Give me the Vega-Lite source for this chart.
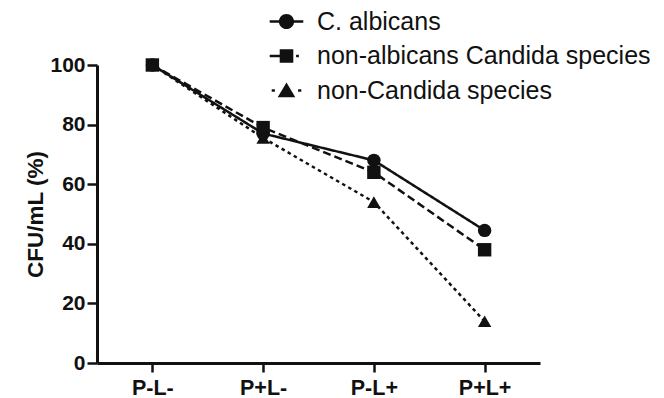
{
  "$schema": "https://vega.github.io/schema/vega-lite/v6.json",
  "autosize": "none",
  "width": 443,
  "height": 298,
  "padding": {"left": 97, "top": 65, "right": 124, "bottom": 35},
  "background": "white",
  "data": {
    "values": [
      {"series": "C. albicans", "condition": "P-L-", "value": 100},
      {"series": "C. albicans", "condition": "P+L-", "value": 77},
      {"series": "C. albicans", "condition": "P-L+", "value": 68},
      {"series": "C. albicans", "condition": "P+L+", "value": 44.5},
      {"series": "non-albicans Candida species", "condition": "P-L-", "value": 100},
      {"series": "non-albicans Candida species", "condition": "P+L-", "value": 79},
      {"series": "non-albicans Candida species", "condition": "P-L+", "value": 64},
      {"series": "non-albicans Candida species", "condition": "P+L+", "value": 38},
      {"series": "non-Candida species", "condition": "P-L-", "value": 100},
      {"series": "non-Candida species", "condition": "P+L-", "value": 75.5},
      {"series": "non-Candida species", "condition": "P-L+", "value": 54},
      {"series": "non-Candida species", "condition": "P+L+", "value": 14}
    ]
  },
  "config": {
    "view": {"stroke": null},
    "axis": {
      "domainColor": "#111",
      "domainWidth": 3,
      "tickColor": "#111",
      "tickWidth": 2.5,
      "tickSize": 10,
      "grid": false,
      "labelFont": "Liberation Sans",
      "labelFontWeight": "bold",
      "labelColor": "#111",
      "titleFont": "Liberation Sans",
      "titleFontWeight": "bold",
      "titleColor": "#111"
    }
  },
  "resolve": {"scale": {"shape": "independent"}, "legend": {"shape": "independent"}},
  "encoding": {
    "x": {
      "field": "condition",
      "type": "ordinal",
      "sort": ["P-L-", "P+L-", "P-L+", "P+L+"],
      "scale": {"type": "point", "padding": 0.5},
      "axis": {"title": null, "labelAngle": 0, "labelFontSize": 21.5, "labelPadding": 5, "tickSize": 9}
    },
    "y": {
      "field": "value",
      "type": "quantitative",
      "scale": {"domain": [0, 100], "nice": false, "zero": true},
      "axis": {"title": "CFU/mL (%)", "values": [0, 20, 40, 60, 80, 100], "labelFontSize": 21, "labelPadding": 2, "titleFontSize": 22.5, "titlePadding": 2}
    }
  },
  "layer": [
    {
      "mark": {"type": "line", "color": "#111", "strokeWidth": 2.5},
      "encoding": {
        "strokeDash": {
          "field": "series",
          "type": "nominal",
          "scale": {"domain": ["C. albicans", "non-albicans Candida species", "non-Candida species"], "range": [[1, 0], [8, 4], [3.5, 3.5]]},
          "legend": null
        },
        "detail": {"field": "series"}
      }
    },
    {
      "mark": {"type": "point", "filled": true, "opacity": 1, "color": "#111", "size": 180},
      "encoding": {
        "shape": {
          "field": "series",
          "type": "nominal",
          "scale": {"domain": ["C. albicans", "non-albicans Candida species", "non-Candida species"], "range": ["circle", "square", "triangle-up"]},
          "legend": null
        }
      }
    },
    {
      "mark": {"type": "point", "filled": true, "opacity": 0, "color": "#111", "size": 256},
      "encoding": {
        "shape": {
          "field": "series",
          "type": "nominal",
          "scale": {
            "domain": ["C. albicans", "non-albicans Candida species", "non-Candida species"],
            "range": [
              "M-2.1,-0.16H-0.8V0.16H-2.1Z M0.8,-0.16H2.1V0.16H0.8Z M0.95,0A0.95,0.95 0 1,1 -0.95,0A0.95,0.95 0 1,1 0.95,0Z",
              "M-2.1,-0.16H-0.85V0.16H-2.1Z M-0.85,-0.85H0.85V0.85H-0.85Z M1.2,-0.16H1.55V0.16H1.2Z",
              "M-1.85,-0.16H-1.45V0.16H-1.85Z M0,-1L1.1,0.85H-1.1Z M1.45,-0.16H1.85V0.16H1.45Z"
            ]
          },
          "legend": {
            "title": null,
            "orient": "none",
            "legendX": 162,
            "legendY": -56,
            "symbolSize": 256,
            "symbolOpacity": 1,
            "symbolFillColor": "#111",
            "symbolStrokeColor": "#111",
            "symbolStrokeWidth": 0,
            "labelFont": "Liberation Sans",
            "labelFontSize": 25,
            "labelColor": "#111",
            "labelOffset": 18,
            "rowPadding": 8.5,
            "symbolOffset": 15,
            "labelLimit": 400
          }
        }
      }
    }
  ]
}
